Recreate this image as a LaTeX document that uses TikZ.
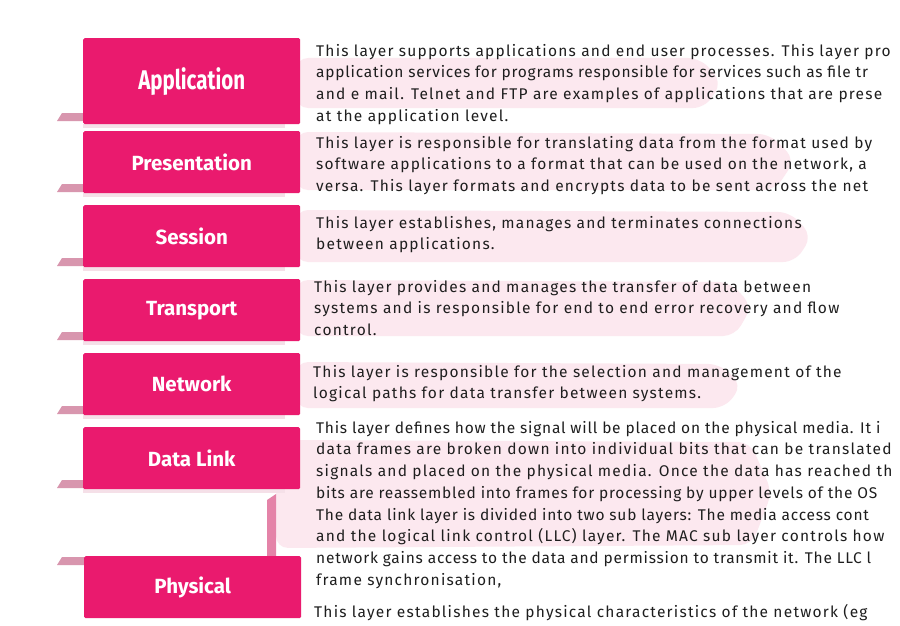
\documentclass[tikz,border=0pt]{standalone}
\usepackage{fontspec}
\setmainfont{Fira Sans}[LetterSpace=8]
\newfontfamily\labelfont{Fira Sans}
\newfontfamily\tightfont{Fira Sans}[LetterSpace=5]
\definecolor{layerpink}{HTML}{EA1A6E}
\definecolor{tabpink}{HTML}{D896AE}
\definecolor{ribbonpink}{HTML}{FCE8EF}
\definecolor{shadowpink}{HTML}{F5E0E8}
\definecolor{barpink}{HTML}{E483A8}
\definecolor{bodytext}{HTML}{1E1E1E}
\tikzset{
  x=1pt, y=-1pt,
  layerbox/.style={fill=layerpink, rounded corners=1.5pt, anchor=north west,
    minimum width=217pt, minimum height=62pt, inner sep=0pt,
    text=white, font=\labelfont\bfseries\fontsize{20.5}{24}\selectfont},
  tabmark/.style={fill=tabpink},
  ribbon/.style={fill=ribbonpink, rounded corners=12pt},
  boxshadow/.style={fill=shadowpink},
  desc/.style={anchor=north west, inner sep=0pt, align=left, text=bodytext,
    font=\fontsize{15.5}{21.7}\selectfont}
}
\begin{document}
\begin{tikzpicture}
\useasboundingbox[fill=white] (0,0) rectangle (900,626);

% soft ribbons behind the descriptions
\fill[ribbon] (296,58) -- (700,58) -- (722,82) -- (705,108) -- (296,108) -- cycle;
\fill[ribbon] (296,132) -- (770,134) -- (795,160) -- (775,190) -- (296,190) -- cycle;
\fill[ribbon] (296,210) -- (790,212) -- (812,236) -- (795,262) -- (296,262) -- cycle;
\fill[ribbon] (296,280) -- (730,282) -- (752,306) -- (735,336) -- (296,336) -- cycle;
\fill[ribbon] (296,362) -- (720,364) -- (742,385) -- (725,408) -- (296,408) -- cycle;
\fill[ribbon] (276,440) -- (750,442) -- (772,492) -- (752,545) -- (276,548) -- cycle;

% shadows under the boxes
\foreach \yb in {124,193,267,341,415,489}
  \fill[boxshadow] (83,\yb) rectangle (285,\yb+4);

% tabs at the lower left of the boxes
\foreach \yb in {121,192,266,340,414,488}
  \fill[tabmark] (62,\yb-8) -- (86,\yb-8) -- (86,\yb) -- (57,\yb) -- cycle;
\fill[tabmark] (62,557) -- (86,557) -- (86,565) -- (57,565) -- cycle;

% joint between Data Link and Physical
\fill[barpink] (267,500) -- (276,494) -- (276,556) -- (267,556) -- cycle;

% layer boxes
\node[layerbox, minimum height=86pt] (app) at (83,38)
  {\scalebox{0.76}[1]{\fontsize{27}{30}\selectfont Application}};
\node[layerbox] (pres) at (83,131) {Presentation};
\node[layerbox] (sess) at (83,205) {Session};
\node[layerbox] (trans) at (83,279) {Transport};
\node[layerbox] (net) at (83,353) {Network};
\node[layerbox] (dlink) at (83,427) {Data Link};
\node[layerbox] (phys) at (84,556) {Physical};

% descriptions
\node[desc] (appd) at (316,44) {This layer supports applications and end user processes. This layer pro\\
{\tightfont application services for programs responsible for services such as file tr}\\
and e mail. Telnet and FTP are examples of applications that are prese\\
at the application level.};
\node[desc] (presd) at (316,136) {This layer is responsible for translating data from the format used by\\
software applications to a format that can be used on the network, a\\
versa. This layer formats and encrypts data to be sent across the net};
\node[desc] (sessd) at (316,216) {This layer establishes, manages and terminates connections\\
between applications.};
\node[desc] (transd) at (314,280) {This layer provides and manages the transfer of data between\\
systems and is responsible for end to end error recovery and flow\\
control.};
\node[desc] (netd) at (313,365) {This layer is responsible for the selection and management of the\\
logical paths for data transfer between systems.};
\node[desc] (dlinkd) at (316,421) {{\tightfont This layer defines how the signal will be placed on the physical media. It i}\\
data frames are broken down into individual bits that can be translated\\
signals and placed on the physical media. Once the data has reached th\\
{\tightfont bits are reassembled into frames for processing by upper levels of the OS}\\
{\tightfont The data link layer is divided into two sub layers: The media access cont}\\
and the logical link control (LLC) layer. The MAC sub layer controls how\\
{\tightfont network gains access to the data and permission to transmit it. The LLC l}\\
frame synchronisation,};
\node[desc] (physd) at (314,604) {This layer establishes the physical characteristics of the network (eg};
\end{tikzpicture}
\end{document}
